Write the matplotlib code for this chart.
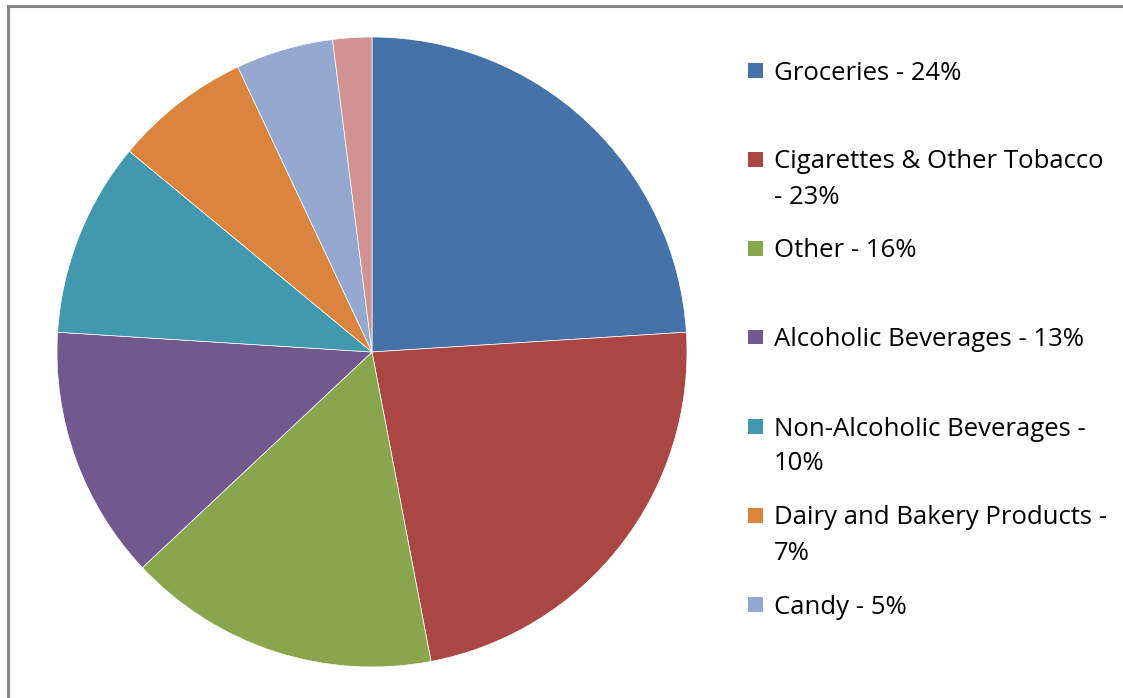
import matplotlib.pyplot as plt
from matplotlib.patches import Rectangle

W, H = 1123, 698

categories = ['Groceries', 'Cigarettes & Other Tobacco', 'Other', 'Alcoholic Beverages',
              'Non-Alcoholic Beverages', 'Dairy and Bakery Products', 'Candy', 'Health & Beauty']
values = [24, 23, 16, 13, 10, 7, 5, 2]
legend_labels = ['Groceries - 24%', 'Cigarettes & Other Tobacco\n- 23%', 'Other - 16%',
                 'Alcoholic Beverages - 13%', 'Non-Alcoholic Beverages -\n10%',
                 'Dairy and Bakery Products -\n7%', 'Candy - 5%']
colors = ['#4572A7', '#AA4643', '#89A54E', '#71588F', '#4198AF', '#DB843D', '#93A9CF', '#D19392']

plt.rcParams['font.family'] = ['Open Sans', 'DejaVu Sans']

fig = plt.figure(figsize=(W / 100, H / 100), dpi=100)

# outer chart border (runs off the right and bottom edges)
fig.patches.append(Rectangle((7.5 / W, -0.05), 1.1, (H - 5.5) / H + 0.05, transform=fig.transFigure,
                             fill=False, edgecolor='#868686', linewidth=2.2))

# pie: centre (372, 352), radius 315 px
cx, cy, r = 372, 352, 315
ax = fig.add_axes([(cx - r) / W, (H - cy - r) / H, 2 * r / W, 2 * r / H])
ax.pie(values, colors=colors, startangle=90, counterclock=False, radius=1,
       wedgeprops=dict(edgecolor='white', linewidth=0.5))
ax.set_xlim(-1, 1)
ax.set_ylim(-1, 1)
ax.set_aspect('equal')
ax.axis('off')

# legend drawn by hand to keep Excel's even pitch
y0, pitch, line_gap = 70, 89, 35
for i, lab in enumerate(legend_labels):
    y = y0 + i * pitch
    fig.patches.append(Rectangle((748 / W, (H - y - 7.5) / H), 15 / W, 15 / H,
                                 transform=fig.transFigure, facecolor=colors[i], edgecolor='none'))
    for j, line in enumerate(lab.split('\n')):
        fig.text(774 / W, (H - y - j * line_gap) / H, line, fontsize=18.5,
                 va='center_baseline', ha='left', color='black')

fig.savefig('out.png', dpi=100)
